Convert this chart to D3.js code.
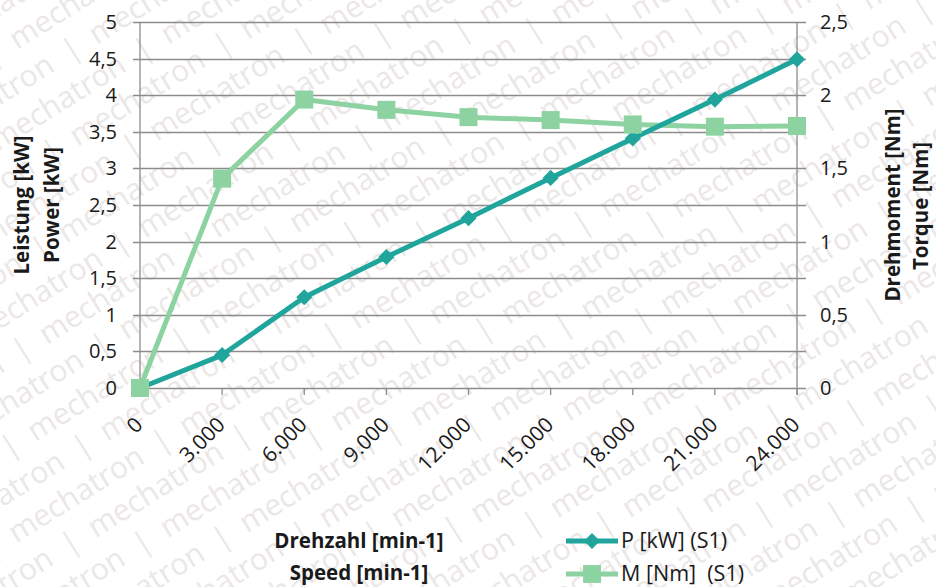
<!DOCTYPE html>
<html>
<head>
<meta charset="utf-8">
<script src="https://cdn.jsdelivr.net/npm/d3@7/dist/d3.min.js"></script>
<style>
  body { margin: 0; background: #fff; }
  text { font-family: "Open Sans", Lato, sans-serif; fill: #1a1a1a; }
  .tick-label { font-size: 20px; }
  .x-label { font-size: 21px; }
  .legend-label { font-size: 21.5px; }
  .title { font-size: 20.5px; font-weight: bold; }
  .wm { font-size: 30px; fill: #ebe7e7; }
</style>
</head>
<body>
<div id="chart"></div>
<script>
var width = 936,
    height = 587;

// data
var speeds = [0, 3000, 6000, 9000, 12000, 15000, 18000, 21000, 24000];
var power = [0, 0.45, 1.24, 1.79, 2.32, 2.87, 3.41, 3.94, 4.49];
var torque = [0, 1.43, 1.97, 1.90, 1.85, 1.83, 1.80, 1.785, 1.79];
var powerTicks = [0, 0.5, 1, 1.5, 2, 2.5, 3, 3.5, 4, 4.5, 5];
var torqueTicks = [0, 0.5, 1, 1.5, 2, 2.5];
var seriesNames = ["P [kW] (S1)", "M [Nm]  (S1)"];

var colP = "#1fa59b",
    colM = "#8dd3a1";

var plot = {left: 140, right: 797, top: 22, bottom: 388};

var x = d3.scaleLinear().domain([0, 24000]).range([plot.left, plot.right]);
var yP = d3.scaleLinear().domain([0, 5]).range([plot.bottom, plot.top]);
var yM = d3.scaleLinear().domain([0, 2.5]).range([plot.bottom, plot.top]);

var fmt = function(v) { return d3.format(",")(v).replace(/,/g, "."); };
var fmtDec = function(v) { return String(v).replace(".", ","); };

var svg = d3.select("#chart").append("svg")
    .attr("width", width)
    .attr("height", height);

/* ---------- watermark ---------- */
var wm = svg.append("g")
    .attr("aria-hidden", "true")
    .attr("transform", "rotate(-32 468 293)");
var wmText = d3.range(12).map(function() { return "mechatron"; }).join("  |  ");
for (var r = -11; r < 21; r++) {
  wm.append("text")
    .attr("class", "wm")
    .attr("x", -520 + (r % 3) * 70)
    .attr("y", r * 38)
    .attr("xml:space", "preserve")
    .text(wmText);
}

/* ---------- grid ---------- */
svg.append("g")
  .selectAll("line")
  .data(powerTicks)
  .enter().append("line")
    .attr("x1", plot.left - 7)
    .attr("x2", plot.right + 9)
    .attr("y1", function(d) { return Math.round(yP(d)) + 0.5; })
    .attr("y2", function(d) { return Math.round(yP(d)) + 0.5; })
    .attr("stroke", "#8c8c8c")
    .attr("stroke-width", 1.3);

// axis lines
svg.append("line")
  .attr("x1", plot.left).attr("x2", plot.left)
  .attr("y1", plot.top).attr("y2", plot.bottom)
  .attr("stroke", "#8c8c8c").attr("stroke-width", 1.3);
svg.append("line")
  .attr("x1", plot.right).attr("x2", plot.right)
  .attr("y1", plot.top).attr("y2", plot.bottom + 7)
  .attr("stroke", "#8c8c8c").attr("stroke-width", 1.3);

// x ticks
svg.append("g")
  .selectAll("line")
  .data(speeds)
  .enter().append("line")
    .attr("x1", function(d) { return x(d); })
    .attr("x2", function(d) { return x(d); })
    .attr("y1", plot.bottom)
    .attr("y2", plot.bottom + 7)
    .attr("stroke", "#8c8c8c")
    .attr("stroke-width", 1.3);

/* ---------- tick labels ---------- */
svg.append("g")
  .selectAll("text")
  .data(powerTicks)
  .enter().append("text")
    .attr("class", "tick-label")
    .attr("x", 117)
    .attr("y", function(d) { return yP(d) + 7; })
    .attr("text-anchor", "end")
    .text(fmtDec);

svg.append("g")
  .selectAll("text")
  .data(torqueTicks)
  .enter().append("text")
    .attr("class", "tick-label")
    .attr("x", 820)
    .attr("y", function(d) { return yM(d) + 7; })
    .attr("text-anchor", "start")
    .text(fmtDec);

svg.append("g")
  .selectAll("text")
  .data(speeds)
  .enter().append("text")
    .attr("class", "x-label")
    .attr("text-anchor", "end")
    .attr("transform", function(d) {
      return "translate(" + (x(d) + 4) + "," + (plot.bottom + 38) + ") rotate(-45)";
    })
    .text(fmt);

/* ---------- axis titles ---------- */
svg.append("text").attr("class", "title")
  .attr("transform", "translate(29,205) rotate(-90)")
  .attr("text-anchor", "middle").text("Leistung [kW]");
svg.append("text").attr("class", "title")
  .attr("transform", "translate(59,205) rotate(-90)")
  .attr("text-anchor", "middle").text("Power [kW]");
svg.append("text").attr("class", "title")
  .attr("transform", "translate(900,205) rotate(-90)")
  .attr("text-anchor", "middle").text("Drehmoment [Nm]");
svg.append("text").attr("class", "title")
  .attr("transform", "translate(928,206) rotate(-90)")
  .attr("text-anchor", "middle").text("Torque [Nm]");

svg.append("text").attr("class", "title")
  .attr("x", 359).attr("y", 548)
  .attr("text-anchor", "middle").text("Drehzahl [min-1]");
svg.append("text").attr("class", "title")
  .attr("x", 359).attr("y", 580)
  .attr("text-anchor", "middle").text("Speed [min-1]");

/* ---------- series ---------- */
var lineP = d3.line()
  .x(function(d, i) { return x(speeds[i]); })
  .y(function(d) { return yP(d); });
var lineM = d3.line()
  .x(function(d, i) { return x(speeds[i]); })
  .y(function(d) { return yM(d); });

svg.append("path")
  .attr("d", lineM(torque))
  .attr("fill", "none")
  .attr("stroke", colM)
  .attr("stroke-width", 5)
  .attr("stroke-linejoin", "round");

svg.append("path")
  .attr("d", lineP(power))
  .attr("fill", "none")
  .attr("stroke", colP)
  .attr("stroke-width", 5)
  .attr("stroke-linejoin", "round");

var diamond = d3.symbol().type(d3.symbolSquare).size(130);
svg.append("g")
  .selectAll("path")
  .data(power)
  .enter().append("path")
    .attr("d", diamond)
    .attr("transform", function(d, i) {
      return "translate(" + x(speeds[i]) + "," + yP(d) + ") rotate(45)";
    })
    .attr("fill", colP);

svg.append("g")
  .selectAll("rect")
  .data(torque)
  .enter().append("rect")
    .attr("x", function(d, i) { return x(speeds[i]) - 9; })
    .attr("y", function(d) { return yM(d) - 9; })
    .attr("width", 18)
    .attr("height", 18)
    .attr("fill", colM);

/* ---------- legend ---------- */
var legend = svg.append("g").attr("transform", "translate(566,541)");
var items = legend.selectAll("g")
  .data([{name: seriesNames[0], color: colP, shape: "diamond"},
         {name: seriesNames[1], color: colM, shape: "square"}])
  .enter().append("g")
    .attr("transform", function(d, i) { return "translate(0," + (i * 33) + ")"; });

items.append("line")
  .attr("x1", 0).attr("x2", 52)
  .attr("y1", 0).attr("y2", 0)
  .attr("stroke", function(d) { return d.color; })
  .attr("stroke-width", 5);

items.append("path")
  .attr("d", function(d) {
    return d.shape === "diamond" ? diamond() : d3.symbol().type(d3.symbolSquare).size(320)();
  })
  .attr("transform", function(d) {
    return "translate(26,0)" + (d.shape === "diamond" ? " rotate(45)" : "");
  })
  .attr("fill", function(d) { return d.color; });

items.append("text")
  .attr("class", "legend-label")
  .attr("x", 55)
  .attr("y", 7)
  .attr("xml:space", "preserve")
  .text(function(d) { return d.name; });
</script>
</body>
</html>
